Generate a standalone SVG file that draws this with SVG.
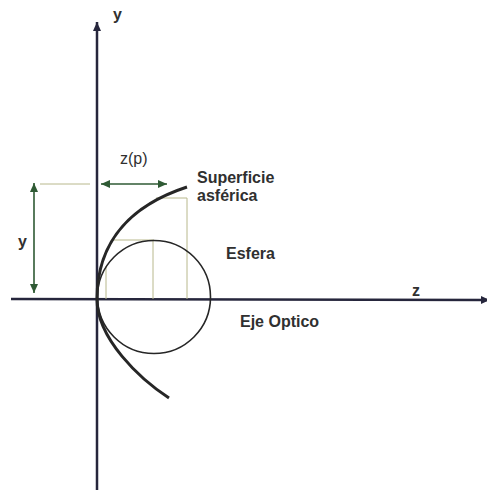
<svg xmlns="http://www.w3.org/2000/svg" width="487" height="490" viewBox="0 0 487 490">
<style>
.axis{stroke:#26263c;stroke-width:2.5;fill:none}
.curve{stroke:#262626;fill:none}
.thin{stroke:#b8b88c;stroke-width:1;fill:none}
.dim{stroke:#2f5a34;stroke-width:1.6;fill:none}
.lbl{font-family:"Liberation Sans",Arial,sans-serif;font-size:16px;fill:#303030;font-weight:bold}
.reg{font-weight:normal}
</style>
<defs>
<marker id="axhead" markerWidth="10" markerHeight="10" refX="9" refY="5" orient="auto" markerUnits="userSpaceOnUse">
<path d="M0,1 L9,5 L0,9 Z" fill="#26263c"/>
</marker>
<marker id="dimhead" markerWidth="10" markerHeight="10" refX="9" refY="5" orient="auto-start-reverse" markerUnits="userSpaceOnUse">
<path d="M0,1 L9,5 L0,9 Z" fill="#2f5a34"/>
</marker>
</defs>
<rect width="487" height="490" fill="#ffffff"/>
<g id="connectors">
<line class="axis" x1="97" y1="490" x2="97" y2="22" marker-end="url(#axhead)"/>
<line class="axis" x1="11" y1="299" x2="490" y2="300" marker-end="url(#axhead)"/>
<line class="thin" x1="40" y1="184" x2="90" y2="184"/>
<line class="dim" x1="34" y1="183" x2="34" y2="293" marker-start="url(#dimhead)" marker-end="url(#dimhead)"/>
<line class="dim" x1="101" y1="184" x2="167" y2="184" marker-start="url(#dimhead)" marker-end="url(#dimhead)"/>
<line class="thin" x1="112" y1="240" x2="154" y2="240"/>
<line class="thin" x1="153" y1="240" x2="153" y2="299"/>
<line class="thin" x1="106" y1="266" x2="106" y2="299"/>
<line class="thin" x1="156" y1="198" x2="187" y2="198"/>
<line class="thin" x1="187" y1="198" x2="187" y2="299"/>
</g>
<g id="esfera">
<circle class="curve" cx="154" cy="297" r="56.5" stroke-width="1.6"/>
<text class="lbl" x="226" y="259">Esfera</text>
</g>
<g id="superficie">
<path class="curve" stroke-width="3" d="M187,187 C135,204 97,238 97,299 C97,339 140,379 169,398"/>
<text class="lbl" x="197" y="183">Superficie</text>
<text class="lbl" x="197" y="201">asférica</text>
</g>
<g id="labels">
<text class="lbl" x="113" y="20">y</text>
<text class="lbl" x="412" y="296">z</text>
<text class="lbl" x="18" y="247">y</text>
<text class="lbl reg" x="120" y="164">z(p)</text>
<text class="lbl" x="240" y="327">Eje Optico</text>
</g>
</svg>
